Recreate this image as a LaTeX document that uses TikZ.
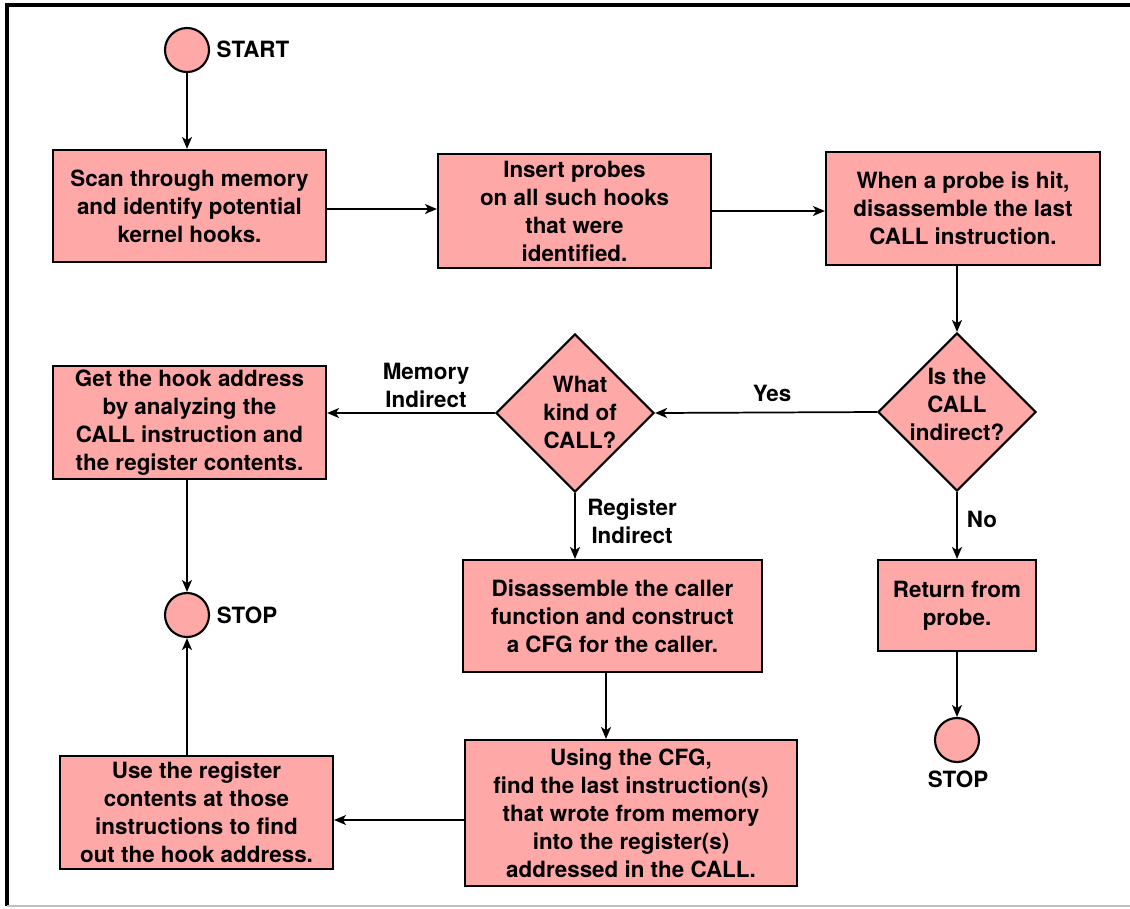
\documentclass[tikz,border=0pt]{standalone}
\usepackage{fontspec}
\setmainfont{TeX Gyre Heros}
\usetikzlibrary{shapes.geometric,arrows.meta}
\definecolor{pinkfill}{RGB}{255,168,168}
\begin{document}
\begin{tikzpicture}[x=0.75pt,y=-0.75pt,
  font=\fontsize{16.8}{21}\selectfont\bfseries,
  box/.style={draw=black,line width=1.6pt,fill=pinkfill,align=center,inner sep=0pt},
  dia/.style={draw=black,line width=1.6pt,fill=pinkfill,diamond,aspect=1,inner sep=0pt,minimum width=118.5pt,minimum height=118.5pt},
  term/.style={draw=black,line width=1.6pt,fill=pinkfill,circle,inner sep=0pt,minimum size=33pt},
  lbl/.style={align=center,inner sep=0pt},
  arr/.style={line width=1.3pt,-{Stealth[length=9pt,width=7.5pt,inset=2.5pt]}}]
\useasboundingbox (0,0) rectangle (1130,908);
% frame
\draw[line width=2.4pt] (7,906) -- (7,5) -- (1130,5);
\draw[black!25,line width=1pt] (7,906) -- (1130,906);

% nodes
\node[term] (start) at (187,50) {};
\node[lbl] (startl) at (253,49) {START};
\node[box,minimum width=204.75pt,minimum height=84pt] (b1) at (189.5,206) {Scan through memory\\and identify potential\\kernel hooks.};
\node[box,minimum width=204.75pt,minimum height=85.5pt] (b2) at (574.5,211) {Insert probes\\on all such hooks\\that were\\identified.};
\node[box,minimum width=205.5pt,minimum height=84.75pt] (b3) at (963,208.5) {When a probe is hit,\\disassemble the last\\CALL instruction.};
\node[dia] (d1) at (957,412) {};
\node[lbl] (d1t) at (957,404) {Is the\\CALL\\indirect?};
\node[dia] (d2) at (575,413) {};
\node[lbl] (d2t) at (580,412) {What\\kind of\\CALL?};
\node[box,minimum width=204.75pt,minimum height=84.75pt] (get) at (189.5,422.5) {Get the hook address\\by analyzing the\\CALL instruction and\\the register contents.};
\node[term] (stop1) at (187,615) {};
\node[lbl] (stop1l) at (247,615) {STOP};
\node[box,minimum width=224.25pt,minimum height=84pt] (dis) at (612.5,616) {Disassemble the caller\\function and construct\\a CFG for the caller.};
\node[box,minimum width=249pt,minimum height=109.5pt] (using) at (631,813) {Using the CFG,\\find the last instruction(s)\\that wrote from memory\\into the register(s)\\addressed in the CALL.};
\node[box,minimum width=204.75pt,minimum height=84.75pt] (use) at (196.5,812.5) {Use the register\\contents at those\\instructions to find\\out the hook address.};
\node[box,minimum width=118.5pt,minimum height=68.25pt] (ret) at (957,605.5) {Return from\\probe.};
\node[term] (stop2) at (957,740) {};
\node[lbl] (stop2l) at (958,779) {STOP};

% edge labels
\node[lbl] (yes) at (772,393) {Yes};
\node[lbl] (memi) at (426,385) {Memory\\Indirect};
\node[lbl] (regi) at (632,521) {Register\\Indirect};
\node[lbl] (no) at (982,519) {No};

% helper coordinates
\coordinate (cx1) at (606,0);
\coordinate (cy1) at (0,820);
\coordinate (cy2) at (0,209);

% connectors
\draw[arr] (start.south) -- (start.south |- b1.north);
\draw[arr] (b1.east |- cy2) -- (b2.west |- cy2);
\draw[arr] (b2.east) -- (b2.east -| b3.west);
\draw[arr] (b3.south -| d1) -- (d1.north);
\draw[arr] (d1.west) -- (d2.east);
\draw[arr] (d2.west) -- (d2.west -| get.east);
\draw[arr] (d2.south) -- (d2.south |- dis.north);
\draw[arr] (dis.south -| cx1) -- (using.north -| cx1);
\draw[arr] (using.west |- cy1) -- (use.east |- cy1);
\draw[arr] (use.north -| stop1) -- (stop1.south);
\draw[arr] (get.south -| stop1) -- (stop1.north);
\draw[arr] (d1.south) -- (ret.north);
\draw[arr] (ret.south) -- (stop2.north);
\end{tikzpicture}
\end{document}
